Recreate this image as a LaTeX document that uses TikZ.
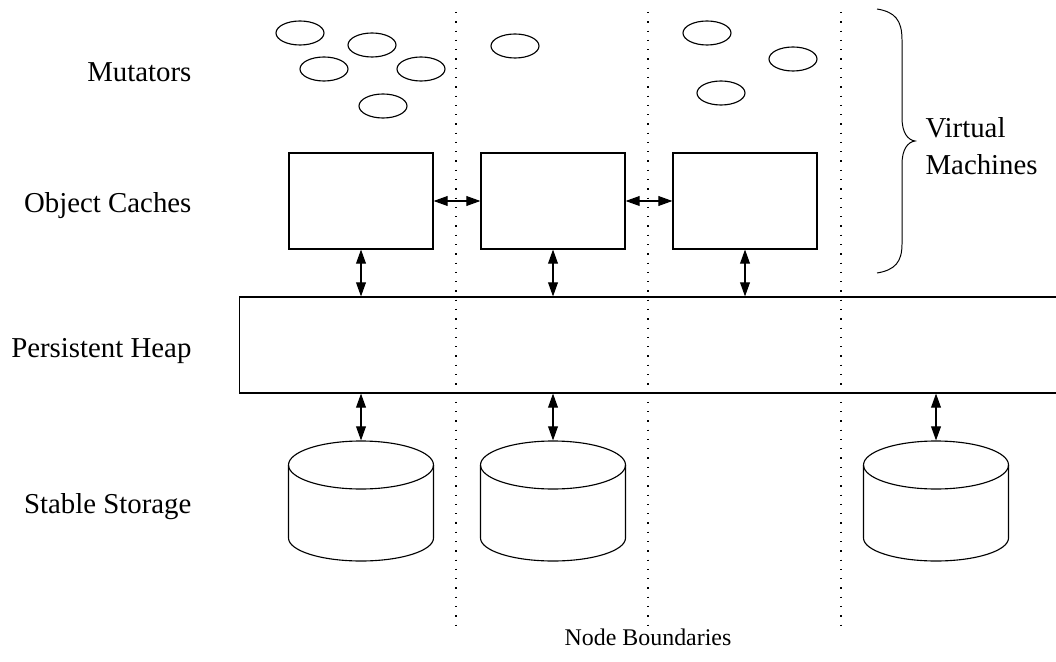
\documentclass[tikz,border=0pt]{standalone}
\usepackage{fontspec}
\setmainfont{Liberation Serif}
\usetikzlibrary{shapes.geometric,arrows.meta}

\begin{document}
\begin{tikzpicture}[x=0.025cm, y=-0.025cm, line width=0.8pt,
  every node/.style={inner sep=0pt},
  dblarrow/.style={{Triangle[length=10pt,width=7pt]}-{Triangle[length=10pt,width=7pt]}, line width=0.8pt},
  boundary/.style={line width=0.9pt, dash pattern=on 0.9pt off 5.7pt}]
\useasboundingbox (0,0) rectangle (1056,662);
\fontsize{20.5pt}{26.3pt}\selectfont

% row labels
\node[anchor=base east] (mutlbl) at (192,82) {Mutators};
\node[anchor=base east] (oclbl) at (192,213) {Object Caches};
\node[anchor=base east] (heaplbl) at (192,357) {Persistent Heap};
\node[anchor=base east] (sslbl) at (192,513) {Stable Storage};

% node boundaries
\foreach \x in {456,648,841}
  \draw[boundary] (\x,12) -- (\x,632);
\node[anchor=base, font=\fontsize{17pt}{20pt}\selectfont] (nblbl) at (648,645) {Node Boundaries};

% mutators
\begin{scope}[every node/.style={ellipse, draw, minimum width=1.2cm, minimum height=0.6cm, inner sep=0pt}]
\foreach \x/\y [count=\i] in {300/33, 372/45, 324/69, 421/69, 383/106, 515/46, 707/33, 793/59, 721/93}
  \node (mut\i) at (\x,\y) {};
\end{scope}

% object caches
\begin{scope}[every node/.style={draw, minimum width=3.6cm, minimum height=2.4cm}]
\node (oc1) at (361,201) {};
\node (oc2) at (553,201) {};
\node (oc3) at (745,201) {};
\end{scope}
\draw[dblarrow] (oc1) -- (oc2);
\draw[dblarrow] (oc2) -- (oc3);

% persistent heap (runs off the right edge)
\node[draw, minimum width=20.75cm, minimum height=2.4cm] (heap) at (655,345) {};
\foreach \i in {1,2,3}
  \draw[dblarrow] (oc\i.south) -- (oc\i.south |- heap.north);

% stable storage
\foreach \x [count=\i] in {361,553,936} {
  \node[minimum width=3.625cm, minimum height=3cm] (ss\i) at (\x,501) {};
  \draw (\x-72.5,465) -- (\x-72.5,538) arc[start angle=180, end angle=0, x radius=72.5, y radius=23] -- (\x+72.5,465);
  \draw (\x,465) ellipse [x radius=72.5, y radius=24];
  \draw[dblarrow] (heap.south -| ss\i.north) -- (ss\i.north);
}

% brace
\draw[line width=0.7pt] (877,9) .. controls (895,12) and (902,20) .. (902,40) -- (902,118)
  .. controls (902,133) and (908,140) .. (915,141)
  .. controls (908,142) and (902,149) .. (902,164) -- (902,244)
  .. controls (902,262) and (895,270) .. (877,273);
\node[anchor=west, align=left] (vmlbl) at (925,146) {Virtual\\Machines};

\end{tikzpicture}
\end{document}
